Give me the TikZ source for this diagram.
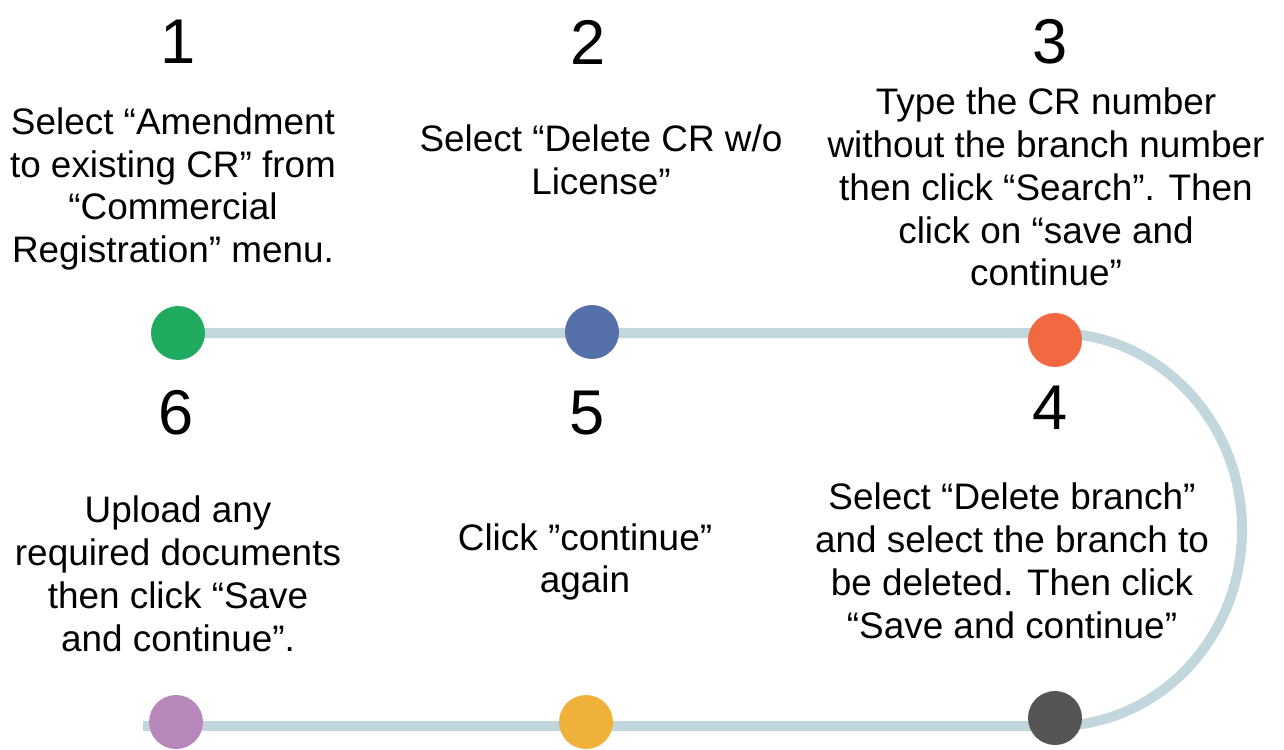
\documentclass[tikz,border=0pt]{standalone}
\usepackage{fontspec}
\setmainfont{Liberation Sans}
\usetikzlibrary{backgrounds}
\definecolor{trackcol}{HTML}{C2D6DE}
\definecolor{dotgreen}{HTML}{1FAA60}
\definecolor{dotblue}{HTML}{5570A8}
\definecolor{dotorange}{HTML}{F26841}
\definecolor{dotgray}{HTML}{555555}
\definecolor{dotpurple}{HTML}{B888BC}
\definecolor{dotyellow}{HTML}{EFB13A}
\tikzset{
  stepdot/.style={circle,inner sep=0pt,minimum size=0.108cm*10,fill=#1},
  stepnum/.style={font=\fontsize{36}{40}\selectfont},
  steptxt/.style={align=center,font=\fontsize{21}{24.4}\selectfont},
  track/.style={line width=0.2cm,trackcol}
}
\begin{document}
\begin{tikzpicture}[x=0.02cm,y=-0.02cm]
\useasboundingbox (0,0) rectangle (1284,750);
% track points
\coordinate (t1) at (178,333);
\coordinate (t3) at (1055,333);
\coordinate (t4) at (1055,726);
\coordinate (t6) at (143,726);
% dots
\node[stepdot=dotgreen] (dot1) at (178,333) {};
\node[stepdot=dotblue] (dot2) at (592,332) {};
\node[stepdot=dotorange] (dot3) at (1055,340) {};
\node[stepdot=dotgray] (dot4) at (1055,718) {};
\node[stepdot=dotyellow] (dot5) at (586,722) {};
\node[stepdot=dotpurple] (dot6) at (176,722) {};
\begin{pgfonlayer}{background}
\draw[track] (t1) -- (t3) arc[start angle=-90,end angle=90,x radius=187,y radius=196.5] -- (t6);
\end{pgfonlayer}
% numbers
\node[stepnum] (num1) at (178,42) {1};
\node[stepnum] (num2) at (588,42) {2};
\node[stepnum] (num3) at (1050,42) {3};
\node[stepnum] (num4) at (1050,408) {4};
\node[stepnum] (num5) at (587,413) {5};
\node[stepnum] (num6) at (176,413) {6};
% texts
\node[steptxt] (txt1) at (173,189) {Select “Amendment\\to existing CR” from\\“Commercial\\Registration” menu.};
\node[steptxt] (txt2) at (601,160) {Select “Delete CR w/o\\License"};
\node[steptxt] (txt3) at (1046,187) {Type the CR number\\without the branch number\\then click “Search”. Then\\click on “save and\\continue”};
\node[steptxt] (txt4) at (1012,561) {Select “Delete branch”\\and select the branch to\\be deleted. Then click\\“Save and continue”};
\node[steptxt] (txt5) at (585,562) {Click ”continue”\\again};
\node[steptxt] (txt6) at (178,574) {Upload any\\required documents\\then click “Save\\and continue”.};
\end{tikzpicture}
\end{document}
